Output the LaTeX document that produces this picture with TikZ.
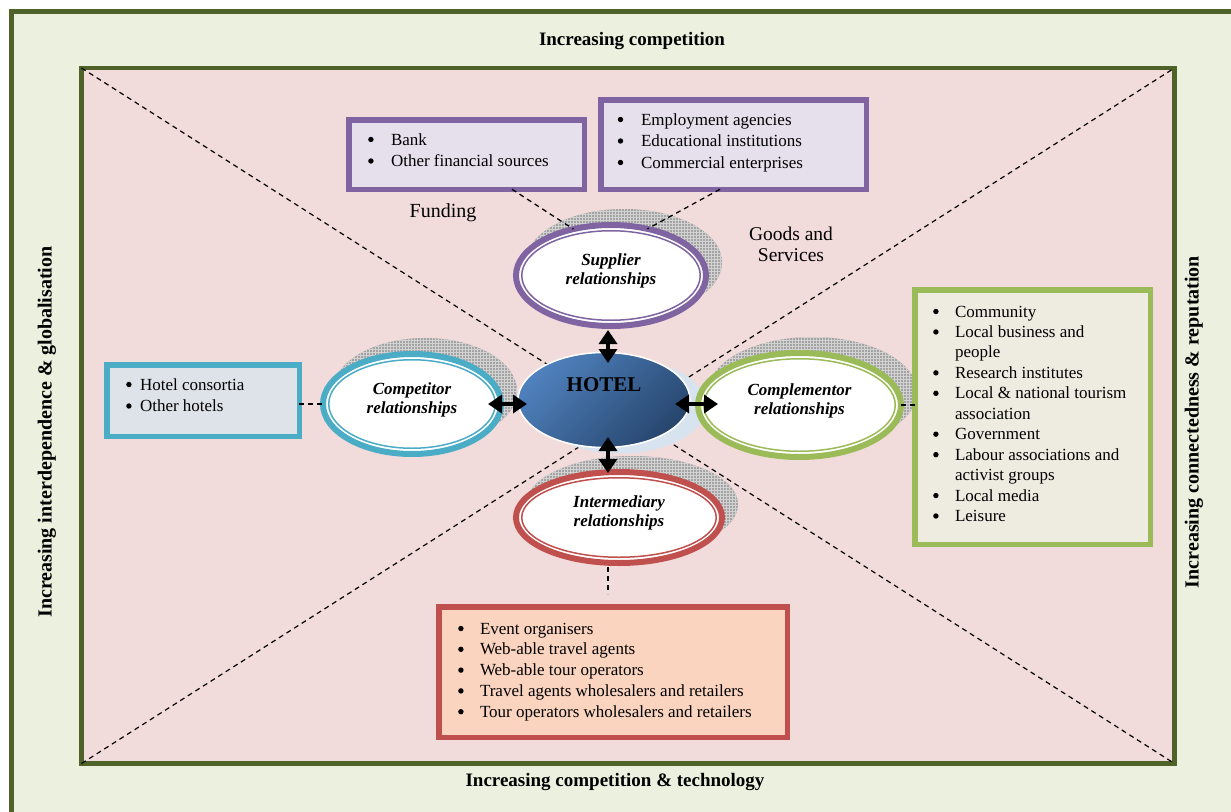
\documentclass[tikz,border=0pt]{standalone}
\usepackage{fontspec}
\setmainfont{Liberation Serif}
\usetikzlibrary{arrows.meta,shapes.geometric,patterns}

\definecolor{frameolive}{HTML}{4F6228}
\definecolor{outergreen}{HTML}{EBF1DE}
\definecolor{innerpink}{HTML}{F2DCDB}
\definecolor{suppurple}{HTML}{8064A2}
\definecolor{compcyan}{HTML}{4BACC6}
\definecolor{complgreen}{HTML}{9BBB59}
\definecolor{interred}{HTML}{C0504D}
\definecolor{hotellight}{HTML}{4F81BD}
\definecolor{hoteldark}{HTML}{27466E}
\definecolor{lavender}{HTML}{E5E0EC}
\definecolor{consfill}{HTML}{DDE3E9}
\definecolor{commfill}{HTML}{EEECE1}
\definecolor{interfill}{HTML}{FAD4BF}

\newcommand{\listdot}{\tikz[baseline=0pt]\fill[black] (2.7pt,5.5pt) circle (2.7pt);}

\begin{document}
\begin{tikzpicture}[x=1pt, y=-1pt,
    every node/.style={inner sep=0pt, outer sep=0pt},
    sidetext/.style={font=\fontsize{19}{22}\selectfont\bfseries},
    diag/.style={dash pattern=on 5pt off 4pt, line width=1.2pt},
    guide/.style={dash pattern=on 5pt off 4pt, line width=1.3pt},
    ringshadow/.style={preaction={fill=gray!72}, pattern=grid, pattern color=gray!35},
    ring/.style={ellipse, draw=#1, line width=6pt, fill=white, align=center,
                 font=\fontsize{17}{19}\selectfont\bfseries\itshape, text depth=12pt},
    thinring/.style={draw=#1, line width=1.5pt},
    listbox/.style={draw=#1, line width=5.5pt},
    bullets/.style={anchor=base west, font=\fontsize{17}{#1}\selectfont},
    dblarrow/.style={{Triangle[width=18pt,length=14pt]}-{Triangle[width=18pt,length=14pt]},
                     line width=4pt}]
  \useasboundingbox (0,0) rectangle (1231,811);
  % frames
  \draw[draw=frameolive, fill=outergreen, line width=4.5pt] (11.5,11.5) rectangle (1260,840);
  \coordinate (tl) at (81.5,68);
  \coordinate (tr) at (1174.5,68);
  \coordinate (bl) at (81.5,763.5);
  \coordinate (br) at (1174.5,763.5);
  \draw[draw=frameolive, fill=innerpink, line width=4.5pt] (tl) rectangle (br);
  \draw[diag] (tl) -- (br);
  \draw[diag] (bl) -- (tr);
  % frame texts
  \node[sidetext] (toptitle) at (632,41) {Increasing competition};
  \node[sidetext] (bottitle) at (615,782) {Increasing competition \& technology};
  \node[sidetext, font=\fontsize{20}{22}\selectfont\bfseries, rotate=90] (lefttitle) at (47,432)
    {Increasing interdependence \& globalisation};
  \node[sidetext, font=\fontsize{20}{22}\selectfont\bfseries, rotate=90] (righttitle) at (1194,422)
    {Increasing connectedness \& reputation};
  % shadows
  \path[ringshadow] (624,262.5) ellipse [x radius=98pt, y radius=53.5pt];
  \path[ringshadow] (425,391) ellipse [x radius=92pt, y radius=53pt];
  \path[ringshadow] (812.5,392) ellipse [x radius=104.5pt, y radius=55pt];
  \path[ringshadow] (632,504.5) ellipse [x radius=106pt, y radius=48.5pt];
  \fill[hotellight!22] (620,406) ellipse [x radius=86pt, y radius=47.5pt];
  % relationship ellipses
  \node[ring=suppurple, minimum width=190pt, minimum height=101pt] (supp) at (611,275.5)
    {Supplier\\relationships};
  \draw[thinring=suppurple] (supp.center) ellipse [x radius=89.25pt, y radius=44.75pt];
  \node[ring=compcyan, minimum width=178pt, minimum height=100pt] (comp) at (412,404)
    {Competitor\\relationships};
  \draw[thinring=compcyan] (comp.center) ellipse [x radius=83.25pt, y radius=44.25pt];
  \node[ring=complgreen, minimum width=203pt, minimum height=104pt] (compl) at (799.5,405)
    {Complementor\\relationships};
  \draw[thinring=complgreen] (compl.center) ellipse [x radius=95.75pt, y radius=46.25pt];
  \node[ring=interred, minimum width=206pt, minimum height=91pt] (inter) at (619,517.5)
    {Intermediary\\relationships};
  \draw[thinring=interred] (inter.center) ellipse [x radius=97.25pt, y radius=39.75pt];
  \node[ellipse, draw=white, line width=1.5pt, top color=hotellight, bottom color=hoteldark,
        shading angle=45, minimum width=172pt, minimum height=95pt, text depth=31pt,
        font=\fontsize{21}{23}\selectfont\bfseries] (hotel) at (604,400) {HOTEL};
  % boxes
  \node[listbox=suppurple, fill=lavender, minimum width=235.5pt, minimum height=69.5pt]
    (bankbox) at (466.5,154.5) {};
  \node[bullets=21.5] (banktext) at (368.2,145) {\begin{tabular}[t]{@{}p{22.8pt}@{}l@{}}
    \listdot & Bank\\
    \listdot & Other financial sources
  \end{tabular}};
  \node[listbox=suppurple, fill=lavender, minimum width=265.5pt, minimum height=89.5pt]
    (emplbox) at (733.5,144.5) {};
  \node[bullets=21.5] (empltext) at (617.8,125) {\begin{tabular}[t]{@{}p{23.2pt}@{}l@{}}
    \listdot & Employment agencies\\
    \listdot & Educational institutions\\
    \listdot & Commercial enterprises
  \end{tabular}};
  \node[listbox=compcyan, fill=consfill, minimum width=192.5pt, minimum height=71.5pt]
    (consbox) at (203,400.5) {};
  \node[bullets=21.5] (constext) at (126.2,390) {\begin{tabular}[t]{@{}p{13.8pt}@{}l@{}}
    \listdot & Hotel consortia\\
    \listdot & Other hotels
  \end{tabular}};
  \node[listbox=complgreen, fill=commfill, minimum width=235.5pt, minimum height=254.5pt]
    (commbox) at (1032.5,417) {};
  \node[bullets=20.45] (commtext) at (933.2,317) {\begin{tabular}[t]{@{}p{21.8pt}@{}l@{}}
    \listdot & Community\\
    \listdot & Local business and\\
             & people\\
    \listdot & Research institutes\\
    \listdot & Local \& national tourism\\
             & association\\
    \listdot & Government\\
    \listdot & Labour associations and\\
             & activist groups\\
    \listdot & Local media\\
    \listdot & Leisure
  \end{tabular}};
  \node[listbox=interred, fill=interfill, minimum width=348.5pt, minimum height=130.5pt]
    (interbox) at (613,672) {};
  \node[bullets=20.8] (intertext) at (458.2,634) {\begin{tabular}[t]{@{}p{21.8pt}@{}l@{}}
    \listdot & Event organisers\\
    \listdot & Web-able travel agents\\
    \listdot & Web-able tour operators\\
    \listdot & Travel agents wholesalers and retailers\\
    \listdot & Tour operators wholesalers and retailers
  \end{tabular}};
  % flow labels
  \node[font=\fontsize{20}{22}\selectfont] (funding) at (443,213) {Funding};
  \node[font=\fontsize{19.5}{21}\selectfont, align=center] (goods) at (791,244) {Goods and\\Services};
  % dashed links
  \draw[guide] ([xshift=45.5pt]bankbox.south) -- (supp.129);
  \draw[guide] ([xshift=-13.5pt]emplbox.south) -- (supp.52);
  \draw[guide] (comp.west -| consbox.east) -- (comp.west);
  \draw[guide] (compl.east) -- (compl.east -| commbox.west);
  \coordinate (axis) at (608,0);
  \coordinate (row) at (0,404);
  \draw[guide, shorten <=4pt, shorten >=12.75pt] (axis |- inter.south) -- (axis |- interbox.north);
  % arrows to the hotel
  \draw[dblarrow, shorten <=4pt, shorten >=-10.5pt] (axis |- supp.south) -- (axis |- hotel.north);
  \draw[dblarrow, shorten <=-10.5pt, shorten >=-1pt] (axis |- hotel.south) -- (axis |- inter.north);
  \draw[dblarrow, shorten <=-13pt, shorten >=-9pt] (row -| comp.east) -- (row -| hotel.west);
  \draw[dblarrow, shorten <=-15pt, shorten >=-20pt] (row -| hotel.east) -- (row -| compl.west);
\end{tikzpicture}
\end{document}
